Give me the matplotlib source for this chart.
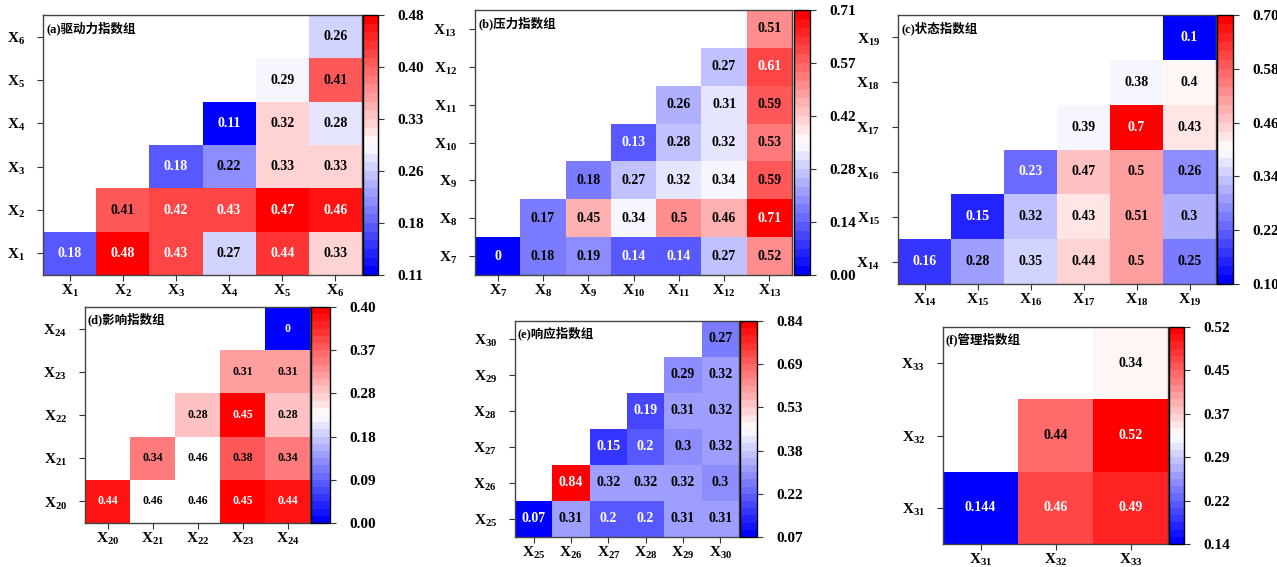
import numpy as np
import matplotlib
matplotlib.use('Agg')
import matplotlib.pyplot as plt

# ---- data: rows listed from the bottom row upward, None = empty cell ----
vals_a = [[0.18, 0.48, 0.43, 0.27, 0.44, 0.33],
          [None, 0.41, 0.42, 0.43, 0.47, 0.46],
          [None, None, 0.18, 0.22, 0.33, 0.33],
          [None, None, None, 0.11, 0.32, 0.28],
          [None, None, None, None, 0.29, 0.41],
          [None, None, None, None, None, 0.26]]
vals_b = [[0.00, 0.18, 0.19, 0.14, 0.14, 0.27, 0.52],
          [None, 0.17, 0.45, 0.34, 0.50, 0.46, 0.71],
          [None, None, 0.18, 0.27, 0.32, 0.34, 0.59],
          [None, None, None, 0.13, 0.28, 0.32, 0.53],
          [None, None, None, None, 0.26, 0.31, 0.59],
          [None, None, None, None, None, 0.27, 0.61],
          [None, None, None, None, None, None, 0.51]]
vals_c = [[0.16, 0.28, 0.35, 0.44, 0.50, 0.25],
          [None, 0.15, 0.32, 0.43, 0.51, 0.30],
          [None, None, 0.23, 0.47, 0.50, 0.26],
          [None, None, None, 0.39, 0.70, 0.43],
          [None, None, None, None, 0.38, 0.40],
          [None, None, None, None, None, 0.10]]
vals_d = [[0.44, 0.46, 0.46, 0.45, 0.44],
          [None, 0.34, 0.46, 0.38, 0.34],
          [None, None, 0.28, 0.45, 0.28],
          [None, None, None, 0.31, 0.31],
          [None, None, None, None, 0.00]]
# cells of (d) that are shown uncoloured (row, col)
blank_d = [(0, 1), (0, 2), (1, 2)]
vals_e = [[0.07, 0.31, 0.20, 0.20, 0.31, 0.31],
          [None, 0.84, 0.32, 0.32, 0.32, 0.30],
          [None, None, 0.15, 0.20, 0.30, 0.32],
          [None, None, None, 0.19, 0.31, 0.32],
          [None, None, None, None, 0.29, 0.32],
          [None, None, None, None, None, 0.27]]
vals_f = [[0.144, 0.46, 0.49],
          [None, 0.44, 0.52],
          [None, None, 0.34]]

idx_a = list(range(1, 7))
idx_b = list(range(7, 14))
idx_c = list(range(14, 20))
idx_d = list(range(20, 25))
idx_e = list(range(25, 31))
idx_f = list(range(31, 34))

titles = ['(a)驱动力指数组', '(b)压力指数组', '(c)状态指数组',
          '(d)影响指数组', '(e)响应指数组', '(f)管理指数组']

ranges = [(0.11, 0.48), (0.00, 0.71), (0.10, 0.70),
          (0.00, 0.46), (0.07, 0.84), (0.14, 0.52)]
cb_labels = [['0.11', '0.18', '0.26', '0.33', '0.40', '0.48'],
             ['0.00', '0.14', '0.28', '0.42', '0.57', '0.71'],
             ['0.10', '0.22', '0.34', '0.46', '0.58', '0.70'],
             ['0.00', '0.09', '0.18', '0.28', '0.37', '0.40'],
             ['0.07', '0.22', '0.38', '0.53', '0.69', '0.84'],
             ['0.14', '0.22', '0.29', '0.37', '0.45', '0.52']]

# ---- style ----
plt.rcParams['font.family'] = ['Liberation Serif', 'Noto Sans CJK SC']
plt.rcParams['font.weight'] = 'bold'
plt.rcParams['mathtext.fontset'] = 'custom'
plt.rcParams['mathtext.rm'] = 'Liberation Serif'
plt.rcParams['mathtext.bf'] = 'Liberation Serif:bold'

W, H = 1277, 567
fig = plt.figure(figsize=(W / 100, H / 100), dpi=100)
cmap = matplotlib.colormaps['bwr'].resampled(30)

# pixel boxes: heatmap (left, top, right, bottom), colorbar (left, right)
boxes = [((43, 15, 362, 275), (363, 378)),
         ((475, 10, 792, 275), (794, 810)),
         ((898, 15, 1216, 284), (1217, 1233)),
         ((85, 307, 310, 523), (311, 330)),
         ((515, 321, 739, 537), (740, 757)),
         ((943, 327, 1168, 544), (1169, 1184))]
ann_size = [10, 10, 10, 8.5, 10, 10]


def rect(l, t, r, b):
    return [l / W, 1 - b / H, (r - l) / W, (b - t) / H]


def draw_panel(vals, idx, title, vr, labels, box, fs, blanks=()):
    (l, t, r, b), (cl, cr) = box
    n = len(idx)
    arr = np.array([[np.nan if v is None else v for v in row] for row in vals])
    colour = arr.copy()
    for (i, j) in blanks:
        colour[i, j] = np.nan
    vmin, vmax = vr

    ax = fig.add_axes(rect(l, t, r, b))
    im = ax.pcolormesh(np.arange(n + 1), np.arange(n + 1),
                       np.ma.masked_invalid(colour), cmap=cmap,
                       vmin=vmin, vmax=vmax, edgecolors='none')
    ax.set_xlim(0, n)
    ax.set_ylim(0, n)

    for i in range(n):
        for j in range(n):
            v = arr[i, j]
            if np.isnan(v):
                continue
            frac = (v - vmin) / (vmax - vmin)
            c = 'white' if (frac < 0.225 or frac > 0.835) and (i, j) not in blanks else 'black'
            ax.text(j + 0.5, i + 0.5, f'{v:g}', ha='center', va='center',
                    fontsize=fs, color=c, fontweight='bold')

    ticklabels = [r'$\mathbf{X_{%d}}$' % k for k in idx]
    ax.set_xticks(np.arange(n) + 0.5)
    ax.set_xticklabels(ticklabels, fontsize=11)
    ax.set_yticks(np.arange(n) + 0.5)
    ax.set_yticklabels(ticklabels, fontsize=11)
    ax.tick_params(axis='x', length=4, pad=2, color='#333333')
    ax.tick_params(axis='y', length=4, pad=9, color='#333333')
    for sp in ax.spines.values():
        sp.set_color('#444444')
        sp.set_linewidth(1.0)

    ax.text(0.012, 0.975, title, transform=ax.transAxes, ha='left', va='top',
            fontsize=9, fontweight='bold')

    cax = fig.add_axes(rect(cl, t, cr, b))
    cb = fig.colorbar(im, cax=cax)
    cb.set_ticks(np.linspace(vmin, vmax, len(labels)))
    cb.set_ticklabels(labels)
    cb.ax.tick_params(length=4, pad=10, labelsize=11, color='#333333')
    cb.outline.set_edgecolor('black')
    cb.outline.set_linewidth(1.0)
    for lab in cb.ax.get_yticklabels():
        lab.set_fontweight('bold')


all_vals = [vals_a, vals_b, vals_c, vals_d, vals_e, vals_f]
all_idx = [idx_a, idx_b, idx_c, idx_d, idx_e, idx_f]
for k in range(6):
    draw_panel(all_vals[k], all_idx[k], titles[k], ranges[k], cb_labels[k],
               boxes[k], ann_size[k], blank_d if k == 3 else ())

fig.savefig('out.png', dpi=100)
